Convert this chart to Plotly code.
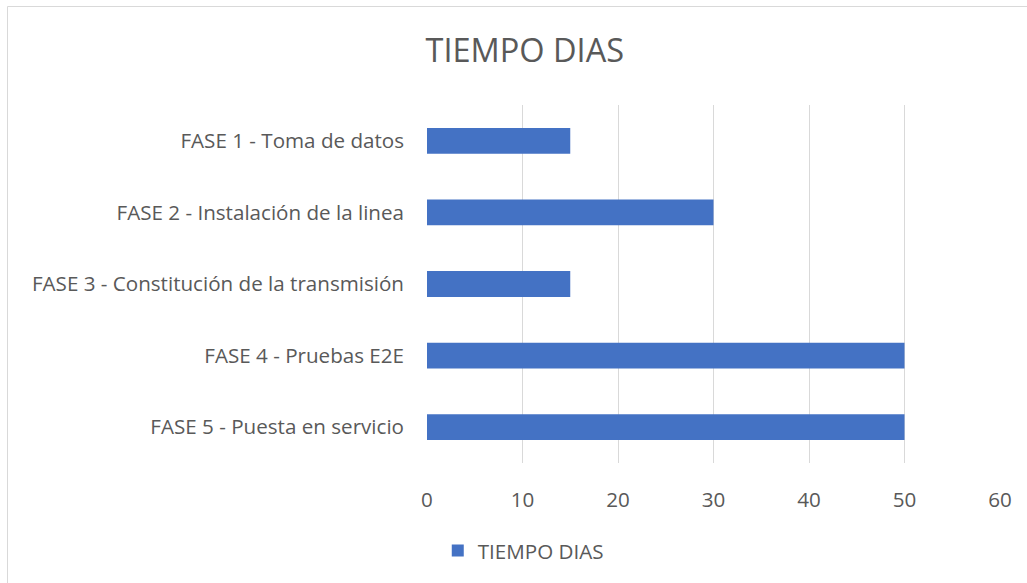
import plotly.graph_objects as go

categories = [
    "FASE 1 - Toma de datos",
    "FASE 2 - Instalación de la linea",
    "FASE 3 - Constitución de la transmisión",
    "FASE 4 - Pruebas E2E",
    "FASE 5 - Puesta en servicio",
]
values = [15, 30, 15, 50, 50]
series_name = "TIEMPO DIAS"
x_ticks = [0, 10, 20, 30, 40, 50, 60]

FONT = "Open Sans"
TXT = "#595959"
FS = 20.6

fig = go.Figure()
fig.add_trace(go.Bar(
    y=categories, x=values, orientation="h", name=series_name,
    marker=dict(color="#4472c4", line=dict(width=0)),
))

fig.update_layout(
    width=1027, height=583,
    margin=dict(l=427, r=27, t=105, b=120, autoexpand=False),
    paper_bgcolor="white", plot_bgcolor="white",
    font=dict(family=FONT, color=TXT, size=FS),
    title=dict(text="TIEMPO DIAS", x=0.511, xanchor="center", y=0.914, yanchor="middle",
               font=dict(family=FONT, size=32.5, color=TXT)),
    bargap=0.64,
    showlegend=True,
    legend=dict(orientation="h", x=0.168, xanchor="center",
                y=-0.245, yanchor="middle",
                font=dict(family=FONT, size=FS, color=TXT), itemwidth=30),
    shapes=[dict(type="rect", xref="paper", yref="paper",
                 x0=-427/573 + 7.5/573, x1=1.2, y0=-0.5, y1=1 + (105 - 6.5) / 358,
                 line=dict(color="#d9d9d9", width=1), layer="below")],
)
fig.update_xaxes(range=[0, 60], tickvals=x_ticks, showgrid=True, gridcolor="#d9d9d9",
                 gridwidth=1, zeroline=False, showline=False, ticks="",
                 ticklabelstandoff=22, tickfont=dict(family=FONT, size=FS, color=TXT))
fig.update_yaxes(categoryorder="array", categoryarray=categories[::-1], showgrid=False,
                 zeroline=False, showline=False, ticks="", ticklabelstandoff=22,
                 tickfont=dict(family=FONT, size=FS, color=TXT))

fig.write_html("out.html")
